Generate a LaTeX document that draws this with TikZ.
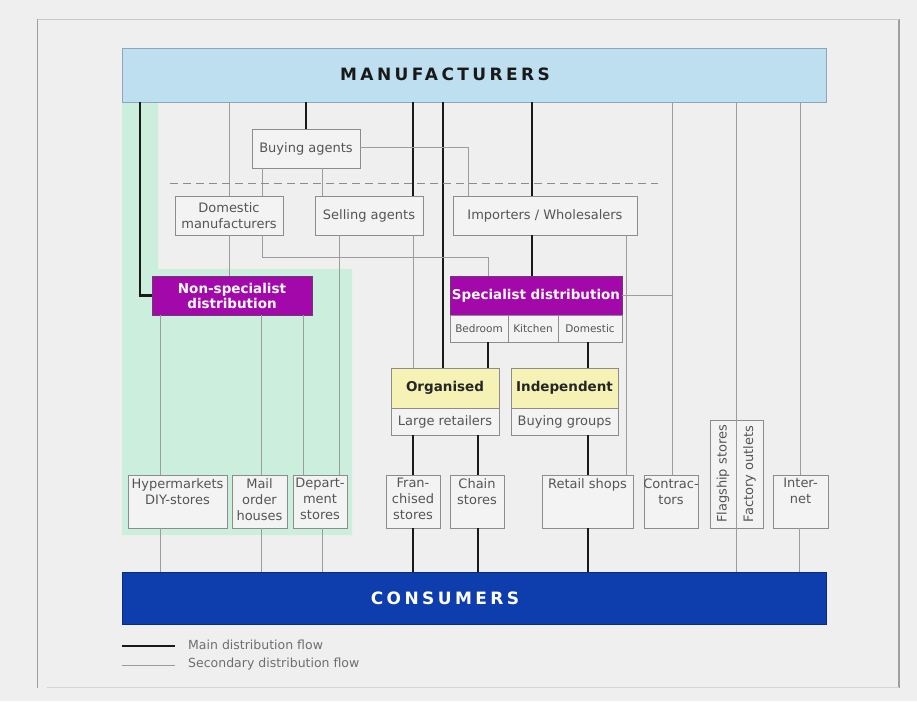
\documentclass[tikz,border=0pt]{standalone}
\usepackage{fontspec}
\setmainfont{DejaVu Sans}
\newfontfamily\spacedfont{DejaVu Sans}[LetterSpace=20]
\usetikzlibrary{calc}
\definecolor{bg}{HTML}{EFEFEF}
\definecolor{frameside}{HTML}{9E9E9E}
\definecolor{frametop}{HTML}{C8C8C8}
\definecolor{framebot}{HTML}{D4D4DC}
\definecolor{manufill}{HTML}{BEDFF0}
\definecolor{manuline}{HTML}{8FA6B4}
\definecolor{consfill}{HTML}{0E3DAE}
\definecolor{consline}{HTML}{0A2C80}
\definecolor{magfill}{HTML}{A208AA}
\definecolor{magline}{HTML}{6E3A70}
\definecolor{yelfill}{HTML}{F6F1B5}
\definecolor{greenfill}{HTML}{CCEEDC}
\definecolor{boxfill}{HTML}{F3F3F3}
\definecolor{boxline}{HTML}{8C8C8C}
\definecolor{thinline}{HTML}{9C9C9C}
\definecolor{txtgray}{HTML}{555555}
\newcommand\ml[1]{\makebox[0pt]{#1}}
\newcommand\bt[2]{\parbox[c][53pt][t]{#1}{\centering\vspace*{3.5pt}#2\par}}
\begin{document}
\begin{tikzpicture}[x=1pt,y=-1pt,
  box/.style={draw=boxline, fill=boxfill, line width=0.8pt, inner sep=0pt, text=txtgray, font=\fontsize{13}{16.5}\selectfont, align=center},
  bbox/.style={box, font=\fontsize{13}{16}\selectfont, minimum height=53pt},
  magbox/.style={draw=magline, fill=magfill, line width=0.8pt, inner sep=0pt, text=white, font=\bfseries\fontsize{13.5}{15}\selectfont, align=center},
  yelbox/.style={draw=boxline, fill=yelfill, line width=0.8pt, inner sep=0pt, text=black!85, font=\bfseries\fontsize{13.5}{16}\selectfont},
  cellbox/.style={box, font=\fontsize{10.5}{12}\selectfont},
  mainflow/.style={line width=2.4pt, draw=black!90},
  secflow/.style={line width=0.9pt, draw=thinline},
  dashline/.style={line width=0.9pt, draw=boxline, dash pattern=on 8pt off 5pt},
  bartext/.style={font=\spacedfont\bfseries\fontsize{17}{20}\selectfont, inner sep=0pt},
  legtext/.style={font=\fontsize{12.5}{15}\selectfont, text=txtgray!85, anchor=west, inner sep=0pt}
]
\useasboundingbox (0,0) rectangle (917,701);
\fill[bg] (0,0) rectangle (917,701);
% frame
\draw[frameside, line width=1.5pt] (37.5,19) -- (37.5,688);
\draw[frameside, line width=1.5pt] (899,19) -- (899,688);
\draw[frametop, line width=1pt] (37.5,19.5) -- (899,19.5);
\draw[framebot, line width=0.8pt] (47,687) -- (899,687);
% green zone
\fill[greenfill] (122,102) -- (158,102) -- (158,269) -- (352,269) -- (352,535) -- (122,535) -- cycle;
% bars
\node[draw=manuline, fill=manufill, line width=0.8pt, minimum width=704pt, minimum height=54pt, inner sep=0pt] (manuf) at (474,75) {};
\node[bartext, text=black!90] (manuftxt) at (445,74) {MANUFACTURERS};
\node[draw=consline, fill=consfill, line width=0.8pt, minimum width=704pt, minimum height=52pt, inner sep=0pt] (cons) at (474,598) {};
\node[bartext, text=white] (constxt) at (445,598) {CONSUMERS};
% boxes
\node[box, minimum width=108pt, minimum height=39pt] (buying) at (306,148.5) {Buying agents};
\node[box, minimum width=108pt, minimum height=39pt] (domestic) at (229,215.5) {Domestic\\manufacturers};
\node[box, minimum width=108pt, minimum height=39pt] (selling) at (369,215.5) {Selling agents};
\node[box, minimum width=184pt, minimum height=39pt] (importers) at (545,215.5) {Importers / Wholesalers};
\node[magbox, minimum width=160pt, minimum height=39pt] (nonspec) at (232,295.5) {Non-specialist\\distribution};
\node[magbox, minimum width=172pt, minimum height=39pt] (specialist) at (536,295.5) {Specialist distribution};
\node[cellbox, minimum width=58pt, minimum height=27pt] (bedroom) at (479,328.5) {Bedroom};
\node[cellbox, minimum width=50pt, minimum height=27pt] (kitchen) at (533,328.5) {Kitchen};
\node[cellbox, minimum width=64pt, minimum height=27pt] (domcell) at (590,328.5) {Domestic};
\node[yelbox, minimum width=108pt, minimum height=40pt] (orgt) at (445,388) {Organised};
\node[box, minimum width=108pt, minimum height=27pt] (orgb) at (445,421.5) {Large retailers};
\node[yelbox, minimum width=107pt, minimum height=40pt] (indt) at (564.5,388) {Independent};
\node[box, minimum width=107pt, minimum height=27pt] (indb) at (564.5,421.5) {Buying groups};
\node[bbox, minimum width=99pt] (hyper) at (177.5,501.5) {\bt{99pt}{\ml{Hypermarkets}\\\ml{DIY-stores}}};
\node[bbox, minimum width=55pt] (mail) at (259.5,501.5) {\bt{55pt}{\ml{Mail}\\\ml{order}\\\ml{houses}}};
\node[bbox, minimum width=54pt] (depart) at (320,501.5) {\bt{54pt}{\ml{Depart-}\\\ml{ment}\\\ml{stores}}};
\node[bbox, minimum width=54pt] (fran) at (413,501.5) {\bt{54pt}{\ml{Fran-}\\\ml{chised}\\\ml{stores}}};
\node[bbox, minimum width=54pt] (chain) at (477,501.5) {\bt{54pt}{\ml{Chain}\\\ml{stores}}};
\node[bbox, minimum width=91pt] (retail) at (587.5,501.5) {\bt{91pt}{\ml{Retail shops}}};
\node[bbox, minimum width=54pt] (contr) at (671,501.5) {\bt{54pt}{\ml{Contrac-}\\\ml{tors}}};
\node[bbox, minimum width=55pt] (internet) at (800.5,501.5) {\bt{55pt}{\ml{Inter-}\\\ml{net}}};
\node[box, rotate=90, minimum width=108pt, minimum height=26pt] (flag) at (723,474) {Flagship stores};
\node[box, rotate=90, minimum width=108pt, minimum height=27pt] (factory) at (749.5,474) {Factory outlets};
% connectors: main flow
\draw[mainflow] (manuf.south -| 140,0) |- (nonspec.west);
\draw[mainflow] (manuf.south -| buying.north) -- (buying.north);
\draw[mainflow] (manuf.south -| 413,0) -- (selling.north -| 413,0);
\draw[mainflow] (manuf.south -| 443,0) -- (orgt.north -| 443,0);
\draw[mainflow] (manuf.south -| 532,0) -- (importers.north -| 532,0);
\draw[mainflow] (importers.south -| 532,0) -- (specialist.north -| 532,0);
\draw[mainflow] (bedroom.south -| 488,0) -- (orgt.north -| 488,0);
\draw[mainflow] (domcell.south -| 588,0) -- (indt.north -| 588,0);
\draw[mainflow] (orgb.south -| fran.north) -- (fran.north);
\draw[mainflow] (orgb.south -| 478,0) -- (chain.north -| 478,0);
\draw[mainflow] (indb.south -| 588,0) -- (retail.north -| 588,0);
\draw[mainflow] (fran.south) -- (fran.south |- cons.north);
\draw[mainflow] (chain.south -| 478,0) -- (cons.north -| 478,0);
\draw[mainflow] (retail.south -| 588,0) -- (cons.north -| 588,0);
% connectors: secondary flow
\draw[secflow] (manuf.south -| domestic.north) -- (domestic.north);
\draw[secflow] (domestic.south) -- (domestic.south |- nonspec.north);
\draw[secflow] (buying.east |- 0,147) -| (importers.north -| 468,0);
\draw[secflow] (buying.south -| 262,0) -- (domestic.north -| 262,0);
\draw[secflow] (buying.south -| 322,0) -- (selling.north -| 322,0);
\draw[secflow] (domestic.south -| 262,0) |- (0,257 -| 488,0) -- (specialist.north -| 488,0);
\draw[secflow] (selling.south -| 339,0) -- (depart.north -| 339,0);
\draw[secflow] (selling.south -| 413,0) -- (orgt.north -| 413,0);
\draw[secflow] (importers.south -| 626,0) -- (retail.north -| 626,0);
\draw[secflow] (manuf.south -| 672,0) -- (contr.north -| 672,0);
\draw[secflow] (specialist.east) -- (specialist.east -| 672,0);
\draw[secflow] (manuf.south -| 736,0) -- (cons.north -| 736,0);
\draw[secflow] (manuf.south -| 800,0) -- (internet.north -| 800,0);
\draw[secflow] (internet.south -| 799,0) -- (cons.north -| 799,0);
\draw[secflow] (nonspec.south -| 160,0) -- (hyper.north -| 160,0);
\draw[secflow] (nonspec.south -| 261,0) -- (mail.north -| 261,0);
\draw[secflow] (nonspec.south -| 303,0) -- (depart.north -| 303,0);
\draw[secflow] (hyper.south -| 160,0) -- (cons.north -| 160,0);
\draw[secflow] (mail.south -| 261,0) -- (cons.north -| 261,0);
\draw[secflow] (depart.south -| 322,0) -- (cons.north -| 322,0);
% dashed separator
\coordinate (dashA) at (170,183);
\coordinate (dashB) at (658,183);
\draw[dashline] (dashA) -- (dashB);
% legend
\coordinate (legA1) at (122,646);
\coordinate (legA2) at (175,646);
\coordinate (legB1) at (122,665);
\coordinate (legB2) at (175,665);
\draw[mainflow] (legA1) -- (legA2);
\draw[secflow] (legB1) -- (legB2);
\node[legtext] (legmain) at (188,645) {Main distribution flow};
\node[legtext] (legsec) at (188,664) {Secondary distribution flow};
\end{tikzpicture}
\end{document}
